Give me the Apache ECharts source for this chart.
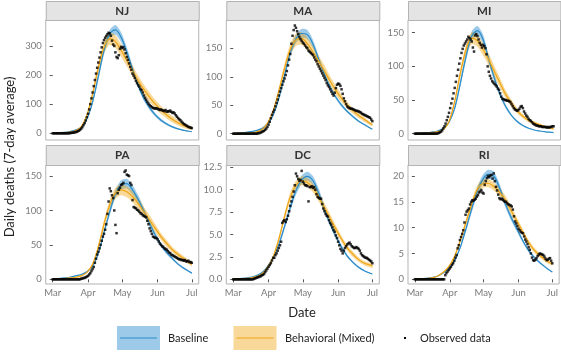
<!DOCTYPE html>
<html>
<head>
<meta charset="utf-8">
<script src="https://cdn.jsdelivr.net/npm/echarts@6/dist/echarts.min.js"></script>
<style>
  html, body { margin: 0; padding: 0; background: #fff; }
  #chart { width: 561px; height: 352px; }
</style>
</head>
<body>
<div id="chart"></div>
<script>
// days since Mar 1 for the model curves
var days = [0,5,10,15,20,25,30,35,40,45,50,55,60,65,70,75,80,85,90,95,100,105,110,115,120,122];
var monthTicks = [0, 31, 61, 92, 122];
var monthLabels = ['Mar', 'Apr', 'May', 'Jun', 'Jul'];

// NJ
var njBase   = [1,2,3,6,11,20,50,108,195,285,340,355,330,280,220,165,120,88,63,45,32,22,15,10,7,6];
var njBaseLo = [0.8,1.6,2.5,5,9.5,18,46,100,183,270,325,338,313,265,207,154,111,80,57,40,28,19,13,8.5,6,5];
var njBaseHi = [1.2,2.4,3.5,7,12.5,22,54,116,207,300,355,372,347,295,233,176,129,96,69,50,36,25,17,11.5,8,7];
var njBeh    = [0.5,1,2,4,9,22,62,135,225,295,325,315,285,250,215,180,150,124,100,80,63,48,36,26,19,17];
var njBehLo  = [0.3,0.7,1.5,3,7,18,55,122,208,275,303,293,264,230,196,162,133,108,85,66,51,37,27,18,13,11];
var njBehHi  = [0.7,1.3,2.5,5,11,26,69,148,242,315,347,337,306,270,234,198,167,140,115,94,75,59,45,34,25,23];
var njObs = [0,0,0,0,0,0,0,0,0,0,0,0,0,0,0,1,1,2,2,3,4,5,7,9,12,16,21,28,35,44,
  55,67,82,100,120,140,162,183,205,225,243,260,278,295,310,320,328,334,340,345,
  343,335,318,305,300,278,262,258,268,290,297,293,296,288,275,262,252,240,228,218,
  205,198,190,180,172,165,160,152,148,140,130,122,115,108,102,97,93,90,87,86,
  85,86,84,82,80,82,79,78,76,80,74,76,75,78,74,70,72,68,62,57,
  52,48,45,40,36,32,30,27,25,22,21,19,18];

// MA
var maBase   = [0.5,1,2,3.5,5.5,9,17,33,62,102,142,167,176,174,157,130,104,82,64,50,39,30,22,16,10,8];
var maBaseLo = [0.4,0.9,1.8,3.2,5,8,15.5,31,59,97,135,159,168,166,150,124,99,78,61,47,37,28,20.5,15,9,7.3];
var maBaseHi = [0.6,1.1,2.2,3.8,6,10,18.5,35,65,107,149,175,184,182,164,136,109,86,67,53,41,32,23.5,17,11,8.7];
var maBeh    = [0.2,0.4,0.8,1.5,3,7,18,40,75,115,148,165,167,158,143,127,110,92,76,62,50,40,32,25,18,16];
var maBehLo  = [0.1,0.3,0.6,1.2,2.5,6,16,36,69,107,138,154,156,147,133,117,100,83,68,55,44,35,27,21,15,13];
var maBehHi  = [0.3,0.5,1,1.8,3.5,8,20,44,81,123,158,176,178,169,153,137,120,101,84,69,56,45,37,29,21,19];
var maObs = [0,0,0,0,0,0,0,0,0,0,0,0,0,0,0,0,0,0,0,0,0,0,1,1,2,3,4,5,7,9,
  12,16,21,27,33,38,42,48,54,60,67,74,80,86,92,97,103,110,120,130,
  140,158,172,182,190,186,180,175,170,166,163,160,158,155,152,150,146,144,142,140,
  138,134,130,127,122,118,114,110,106,102,98,94,89,85,82,78,74,70,67,72,
  80,86,88,87,84,78,70,62,57,52,48,46,45,44,44,43,42,41,40,40,
  39,38,37,35,34,33,32,31,30,29,28,25,22];

// MI
var miBase   = [0.5,1,1.5,2.5,4,8,17,38,75,115,145,153,140,110,82,58,40,27,18,12,8,5.5,4,2.8,2,1.7];
var miBaseLo = [0.4,0.9,1.3,2.2,3.6,7.2,15.5,35,70,109,138,146,133,104,77,54,37,25,16.5,11,7.2,5,3.5,2.5,1.8,1.5];
var miBaseHi = [0.6,1.1,1.7,2.8,4.4,8.8,18.5,41,80,121,152,160,147,116,87,62,43,29,19.5,13,8.8,6,4.5,3.1,2.2,1.9];
var miBeh    = [0.2,0.4,0.8,1.5,3,6,18,48,90,125,142,138,125,110,92,75,58,45,34,26,20,16,13,10,8,7];
var miBehLo  = [0.1,0.3,0.6,1.2,2.5,5,16,44,84,117,133,129,116,101,84,68,52,40,30,23,17,13.5,11,8.5,6.5,5.7];
var miBehHi  = [0.3,0.5,1,1.8,3.5,7,20,52,96,133,151,147,134,119,100,82,64,50,38,29,23,18.5,15,11.5,9.5,8.3];
var miObs = [0,0,0,0,0,0,0,0,0,0,0,0,0,0,0,0,0,0,0,0,0.5,1,2,3,5,8,11,15,20,25,
  31,38,45,52,60,68,77,86,95,104,112,120,126,131,134,137,140,144,142,140,
  137,128,122,146,148,145,140,135,132,128,132,130,127,118,100,92,86,82,78,76,
  74,72,70,67,65,60,55,52,51,50,50,49,49,48,47,44,41,38,36,35,
  34,35,37,40,41,38,33,30,27,25,22,20,19,17,15,14,13,12,12,11,
  11,11,10,10,10,10,9,10,9,10,10,11,11];

// PA
var paBase   = [0.5,1,2,3,5,7,11,19,38,68,98,124,137,139,130,116,99,81,64,50,39,30,22,16,11,9];
var paBaseLo = [0.4,0.9,1.8,2.7,4.5,6.3,10,17.5,35,64,93,118,130,132,123,110,94,76,60,47,36,28,20.5,14.5,10,8];
var paBaseHi = [0.6,1.1,2.2,3.3,5.5,7.7,12,20.5,41,72,103,130,144,146,137,122,104,86,68,53,42,32,23.5,17.5,12,10];
var paBeh    = [0.2,0.5,1,2,3,5,10,22,47,80,108,125,130,127,120,110,98,86,74,62,52,43,36,30,24,22];
var paBehLo  = [0.1,0.4,0.8,1.7,2.6,4.3,9,20,43,74,101,117,122,119,112,102,91,79,68,57,47,39,32,26.5,21,19];
var paBehHi  = [0.3,0.6,1.2,2.3,3.4,5.7,11,24,51,86,115,133,138,135,128,118,105,93,80,67,57,47,40,33.5,27,25];
var paObs = [0,0,0,0,0,0,0,0,0,0,0,0,0,0,0,0,0,0,0,0,0,0,0,0,0,1,1,2,2,3,
  4,5,7,9,12,15,18,24,30,36,40,45,50,56,62,66,72,80,95,113,
  132,128,122,118,100,79,67,125,130,133,137,138,140,156,158,152,151,150,140,137,
  115,105,104,103,101,100,98,96,95,93,92,91,90,85,80,74,70,66,62,61,
  60,60,58,55,52,50,48,47,45,44,43,41,39,38,36,35,34,33,32,31,
  30,29,29,28,28,27,28,26,26,27,25,25,24];

// DC
var dcBase   = [0.05,0.08,0.13,0.22,0.4,0.75,1.4,2.4,3.9,5.9,8.0,9.9,11.1,11.5,11.0,9.6,7.8,6.2,4.8,3.6,2.6,1.9,1.35,0.95,0.68,0.6];
var dcBaseLo = [0.04,0.07,0.11,0.2,0.36,0.68,1.3,2.25,3.7,5.6,7.6,9.4,10.6,11.0,10.5,9.1,7.4,5.9,4.55,3.4,2.45,1.78,1.25,0.88,0.62,0.55];
var dcBaseHi = [0.06,0.09,0.15,0.24,0.44,0.82,1.5,2.55,4.1,6.2,8.4,10.4,11.6,12.0,11.5,10.1,8.2,6.5,5.05,3.8,2.75,2.02,1.45,1.02,0.74,0.65];
var dcBeh    = [0.03,0.05,0.09,0.15,0.3,0.6,1.3,2.5,4.5,7.0,9.2,10.5,11.0,10.8,10.2,9.2,8.0,6.8,5.6,4.5,3.5,2.8,2.2,1.8,1.6,1.5];
var dcBehLo  = [0.02,0.04,0.07,0.12,0.25,0.52,1.15,2.3,4.2,6.6,8.7,10.0,10.5,10.3,9.7,8.7,7.5,6.3,5.2,4.15,3.2,2.5,1.95,1.55,1.35,1.25];
var dcBehHi  = [0.04,0.06,0.11,0.18,0.35,0.68,1.45,2.7,4.8,7.4,9.7,11.0,11.5,11.3,10.7,9.7,8.5,7.3,6.0,4.85,3.8,3.1,2.45,2.05,1.85,1.75];
var dcObs = [0,0,0,0,0,0,0,0,0,0,0,0,0,0,0,0,0,0,0.05,0.1,0.15,0.2,0.25,0.3,0.35,0.45,0.5,0.6,0.8,1.0,
  1.2,1.4,1.6,1.8,2.1,2.4,2.4,2.7,2.9,3.2,3.5,3.8,4.2,6.3,6.5,6.6,6.4,6.7,7.1,7.6,
  8.2,8.7,9.2,9.8,10.5,11.8,11.5,11.2,11.0,11.1,12.1,10.9,10.7,10.5,10.5,10.4,8.7,10.3,10.3,10.4,
  10.2,10.3,10.0,9.5,9.2,9.1,9.0,9.0,8.4,7.9,7.6,7.3,7.1,7.0,6.6,6.3,6.1,5.8,5.5,5.3,
  4.9,4.6,4.2,3.8,3.4,3.2,2.9,3.2,3.5,3.7,3.9,4.0,4.1,3.9,3.7,3.6,3.5,3.5,3.6,3.5,
  3.4,3.2,2.9,2.7,2.6,2.5,2.4,2.4,2.3,2.2,2.1,2.0,1.8];

// RI
var riBase   = [0.05,0.1,0.2,0.35,0.6,1.2,2.1,3.5,6.0,9.5,13.3,16.8,19.2,20.3,20.0,17.8,14.8,12.2,10.0,7.8,5.9,4.5,3.4,2.5,1.7,1.4];
var riBaseLo = [0.04,0.09,0.18,0.32,0.55,1.1,1.95,3.3,5.7,9.0,12.6,16.0,18.3,19.4,19.1,17.0,14.1,11.6,9.5,7.4,5.6,4.25,3.2,2.35,1.6,1.3];
var riBaseHi = [0.06,0.11,0.22,0.38,0.65,1.3,2.25,3.7,6.3,10.0,14.0,17.6,20.1,21.2,20.9,18.6,15.5,12.8,10.5,8.2,6.2,4.75,3.6,2.65,1.8,1.5];
var riBeh    = [0.03,0.07,0.15,0.3,0.6,1.3,2.4,4.3,7.3,10.8,14.3,17.2,18.5,18.6,18.0,16.9,15.5,13.5,11.5,9.5,7.5,5.9,4.8,3.9,3.2,3.0];
var riBehLo  = [0.02,0.05,0.12,0.26,0.52,1.15,2.2,4.0,6.9,10.2,13.6,16.4,17.7,17.8,17.2,16.1,14.7,12.7,10.8,8.9,7.0,5.4,4.35,3.5,2.85,2.65];
var riBehHi  = [0.04,0.09,0.18,0.34,0.68,1.45,2.6,4.6,7.7,11.4,15.0,18.0,19.3,19.4,18.8,17.7,16.3,14.3,12.2,10.1,8.0,6.4,5.25,4.3,3.55,3.35];
var riObs = [0,0,0,0,0,0,0,0,0,0,0,0,0,0,0,0,0,0,0,0,0,0,0,0,0,0,0,0.8,1.2,1.5,
  1.8,2.1,2.4,2.8,3.1,3.6,4.2,4.7,6.0,6.6,7.6,8.2,8.8,9.5,11.0,12.5,13.1,13.4,13.7,14.5,
  15.0,15.3,15.2,15.4,15.6,16.0,16.3,16.8,17.0,17.3,16.8,16.6,18.3,19.0,19.6,20.0,19.8,20.1,20.2,19.5,
  20.5,19.0,17.9,17.2,16.4,15.7,15.5,15.6,15.4,15.2,15.0,15.0,14.7,14.5,14.4,14.3,14.1,13.5,12.2,11.2,
  10.8,10.3,9.8,9.5,9.2,9.0,8.9,8.3,7.7,7.3,6.8,6.2,5.7,5.0,4.2,3.7,3.6,3.8,4.1,4.5,
  4.8,5.0,4.9,4.8,4.7,4.4,4.0,3.7,3.8,4.0,4.1,3.6,3.1];

var yTicks = {
  NJ: [0, 100, 200, 300],
  MA: [0, 50, 100, 150],
  MI: [0, 50, 100, 150],
  PA: [0, 50, 100, 150],
  DC: [0, 2.5, 5, 7.5, 10, 12.5],
  RI: [0, 5, 10, 15, 20]
};

var BLUE = '#2a8cc8', BLUE_FILL = 'rgba(60,150,210,0.5)';
var ORANGE = '#efa514', ORANGE_FILL = 'rgba(240,160,0,0.4)';
var FONT = 'Lato';

var panels = [
  {name: 'NJ', base: njBase, baseLo: njBaseLo, baseHi: njBaseHi, beh: njBeh, behLo: njBehLo, behHi: njBehHi, obs: njObs, ymin: -23, ymax: 389},
  {name: 'MA', base: maBase, baseLo: maBaseLo, baseHi: maBaseHi, beh: maBeh, behLo: maBehLo, behHi: maBehHi, obs: maObs, ymin: -11.1, ymax: 199.7},
  {name: 'MI', base: miBase, baseLo: miBaseLo, baseHi: miBaseHi, beh: miBeh, behLo: miBehLo, behHi: miBehHi, obs: miObs, ymin: -9.4, ymax: 168.9},
  {name: 'PA', base: paBase, baseLo: paBaseLo, baseHi: paBaseHi, beh: paBeh, behLo: paBehLo, behHi: paBehHi, obs: paObs, ymin: -6.8, ymax: 166},
  {name: 'DC', base: dcBase, baseLo: dcBaseLo, baseHi: dcBaseHi, beh: dcBeh, behLo: dcBehLo, behHi: dcBehHi, obs: dcObs, ymin: -0.52, ymax: 12.76},
  {name: 'RI', base: riBase, baseLo: riBaseLo, baseHi: riBaseHi, beh: riBeh, behLo: riBehLo, behHi: riBehHi, obs: riObs, ymin: -0.91, ymax: 22.13}
];

// panel layout (px)
var colLeft = [45.75, 226.3, 408];
var panelW = 153;
var rowTop = [20, 165];
var panelH = [120, 119];
var stripTop = [1, 145];

var chart = echarts.init(document.getElementById('chart'), null, {renderer: 'canvas'});

var grids = [], xAxes = [], yAxes = [], series = [], graphics = [];

/**
 * 置信带（上下界围成的多边形）
 */
function bandSeries(i, lo, hi, color, z) {
  return {
    type: 'custom', xAxisIndex: i, yAxisIndex: i, silent: true, z: z,
    data: [[0, 0]],
    renderItem: function (params, api) {
      var pts = [], k;
      for (k = 0; k < days.length; k++) pts.push(api.coord([days[k], hi[k]]));
      for (k = days.length - 1; k >= 0; k--) pts.push(api.coord([days[k], lo[k]]));
      return {type: 'polygon', shape: {points: pts, smooth: 0.25}, style: {fill: color}};
    }
  };
}

function pairs(xs, ys) {
  return ys.map(function (v, k) { return [xs[k], v]; });
}

panels.forEach(function (p, i) {
  var row = Math.floor(i / 3), col = i % 3;
  var left = colLeft[col], w = (col === 2 ? 152.5 : panelW);
  grids.push({
    left: left, top: rowTop[row], width: w, height: panelH[row],
    show: true, borderColor: '#b3b3b3', borderWidth: 1, backgroundColor: '#fff'
  });
  xAxes.push({
    type: 'value', gridIndex: i, min: -6.1, max: 128.1,
    axisLine: {show: false},
    splitLine: {show: false},
    axisTick: {show: row === 1, length: 3, lineStyle: {color: '#555'}, customValues: monthTicks},
    axisLabel: {
      show: row === 1, customValues: monthTicks, margin: 4,
      fontFamily: FONT, fontSize: 9.5, color: '#7a7a7a',
      formatter: function (v) { return monthLabels[monthTicks.indexOf(v)]; }
    }
  });
  var ticks = yTicks[p.name];
  yAxes.push({
    type: 'value', gridIndex: i, min: p.ymin, max: p.ymax,
    axisLine: {show: false},
    splitLine: {show: false},
    axisTick: {show: true, length: 3, lineStyle: {color: '#555'}, customValues: ticks},
    axisLabel: {
      customValues: ticks, margin: 4,
      fontFamily: FONT, fontSize: 9.5, color: '#7a7a7a',
      formatter: function (v) { return p.name === 'DC' ? v.toFixed(1) : String(v); }
    }
  });

  series.push(bandSeries(i, p.baseLo, p.baseHi, BLUE_FILL, 1));
  series.push(bandSeries(i, p.behLo, p.behHi, ORANGE_FILL, 2));
  series.push({
    type: 'line', xAxisIndex: i, yAxisIndex: i, data: pairs(days, p.base),
    showSymbol: false, smooth: 0.35, silent: true, z: 3,
    lineStyle: {color: BLUE, width: 1.2}
  });
  series.push({
    type: 'line', xAxisIndex: i, yAxisIndex: i, data: pairs(days, p.beh),
    showSymbol: false, smooth: 0.35, silent: true, z: 4,
    lineStyle: {color: ORANGE, width: 1.2}
  });
  series.push({
    type: 'scatter', xAxisIndex: i, yAxisIndex: i,
    data: p.obs.map(function (v, d) { return [d, v]; }),
    symbol: 'rect', symbolSize: 2.5, silent: true, z: 5,
    itemStyle: {color: '#000'}
  });

  // facet strip
  graphics.push({
    type: 'rect', left: left, top: stripTop[row],
    shape: {width: w, height: rowTop[row] - stripTop[row]},
    style: {fill: '#e4e4e4', stroke: '#b3b3b3', lineWidth: 1}
  });
  graphics.push({
    type: 'text', x: left + w / 2, y: (stripTop[row] + rowTop[row]) / 2 + 0.5,
    style: {text: p.name, fontFamily: FONT, fontSize: 11.5, fontWeight: 'bold', fill: '#333',
      align: 'center', verticalAlign: 'middle'}
  });
});

// axis titles
graphics.push({
  type: 'text', x: 10, y: 157, rotation: Math.PI / 2,
  style: {text: 'Daily deaths (7-day average)', fontFamily: FONT, fontSize: 13, fill: '#222',
    align: 'center', verticalAlign: 'middle'}
});
graphics.push({
  type: 'text', x: 302, y: 313,
  style: {text: 'Date', fontFamily: FONT, fontSize: 13, fill: '#222',
    align: 'center', verticalAlign: 'middle'}
});

// legend
var legY = 338;
graphics.push({type: 'rect', left: 117, top: 326, shape: {width: 43, height: 24}, style: {fill: BLUE_FILL}});
graphics.push({type: 'line', shape: {x1: 120, y1: legY, x2: 157, y2: legY}, style: {stroke: BLUE, lineWidth: 1.2}});
graphics.push({type: 'text', x: 168, y: legY, style: {text: 'Baseline', fontFamily: FONT, fontSize: 11, fill: '#222', verticalAlign: 'middle'}});
graphics.push({type: 'rect', left: 233.5, top: 326, shape: {width: 43, height: 24}, style: {fill: ORANGE_FILL}});
graphics.push({type: 'line', shape: {x1: 236.5, y1: legY, x2: 273.5, y2: legY}, style: {stroke: ORANGE, lineWidth: 1.2}});
graphics.push({type: 'text', x: 285, y: legY, style: {text: 'Behavioral (Mixed)', fontFamily: FONT, fontSize: 11, fill: '#222', verticalAlign: 'middle'}});
graphics.push({type: 'rect', left: 404, top: legY - 1, shape: {width: 2, height: 2}, style: {fill: '#000'}});
graphics.push({type: 'text', x: 420, y: legY, style: {text: 'Observed data', fontFamily: FONT, fontSize: 11, fill: '#222', verticalAlign: 'middle'}});

chart.setOption({
  animation: false,
  backgroundColor: '#fff',
  grid: grids,
  xAxis: xAxes,
  yAxis: yAxes,
  series: series,
  graphic: graphics
});
</script>
</body>
</html>
